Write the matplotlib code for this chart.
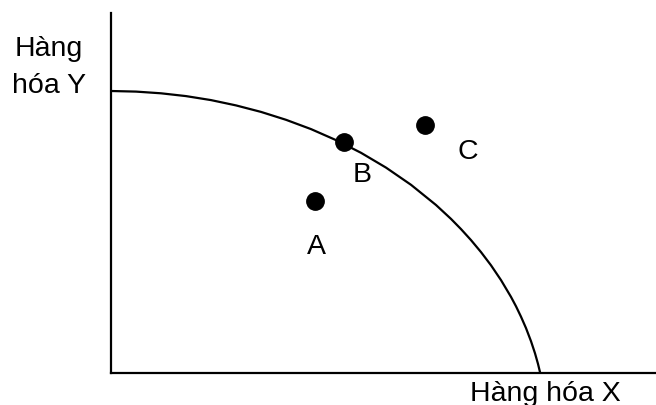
import matplotlib
matplotlib.use("Agg")
import matplotlib.pyplot as plt

# production possibility frontier
# (units: pixels from the origin of the axes)
ppf_x = [0, 25, 50, 75, 100, 125, 150, 175, 200, 225, 250, 275, 300, 325, 340,
         350, 360, 370, 380, 390, 400, 405, 410, 415, 420, 424, 427, 429.2]
ppf_y = [282, 281.4, 279.7, 276.9, 272.9, 267.6, 261.1, 253.2, 243.9, 232.9,
         220.2, 205.4, 188.2, 168.0, 154.1, 143.9, 132.9, 120.9, 107.7, 92.9,
         76.1, 66.7, 56.3, 44.9, 31.8, 19.7, 9.1, 0]

point_names = ["A", "B", "C"]
point_x = [204, 233, 314]
point_y = [172, 231, 248]
# where the letters sit
label_x = [205, 251, 357]
label_y = [126, 198, 221]

x_title = "Hàng hóa X"
y_title = ["Hàng", "hóa Y"]

plt.rcParams['font.family'] = ['Liberation Sans', 'DejaVu Sans']

fig = plt.figure(figsize=(6.56, 4.05), dpi=100)
ax = fig.add_axes([111 / 656, 32 / 405, 545 / 656, 360 / 405])
ax.set_xlim(0, 545)
ax.set_ylim(0, 360)

for s in ['top', 'right']:
    ax.spines[s].set_visible(False)
for s in ['left', 'bottom']:
    ax.spines[s].set_linewidth(1.6)
ax.set_xticks([])
ax.set_yticks([])

ax.plot(ppf_x, ppf_y, color='black', lw=1.6, solid_joinstyle='round')
ax.plot(point_x, point_y, 'o', color='black', markersize=12.5, clip_on=False)

fs = 20.5
for name, lx, ly in zip(point_names, label_x, label_y):
    ax.text(lx, ly, name, fontsize=fs, ha='center', va='center')

ax.text(434, -28, x_title, fontsize=fs, ha='center', va='baseline', clip_on=False)
ax.text(-62, 317, y_title[0], fontsize=fs, ha='center', va='baseline', clip_on=False)
ax.text(-62, 280, y_title[1], fontsize=fs, ha='center', va='baseline', clip_on=False)

fig.savefig("out.png", dpi=100)
